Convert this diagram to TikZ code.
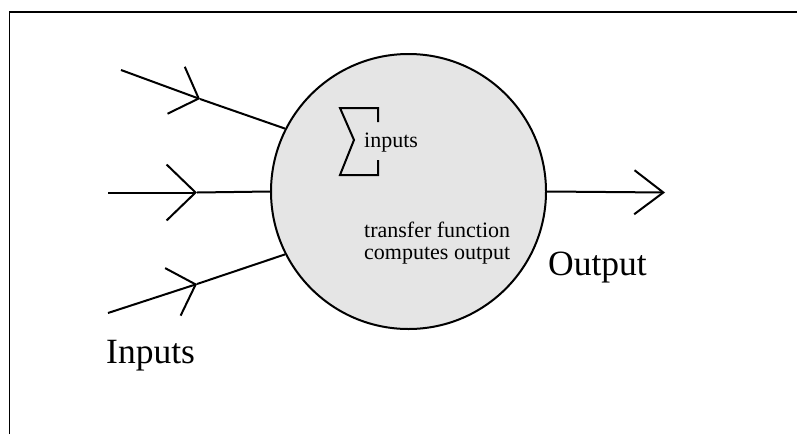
\documentclass[tikz,border=0pt]{standalone}
\usepackage{fontspec}
\setmainfont{Liberation Serif}
\usetikzlibrary{arrows.meta}
\begin{document}
\begin{tikzpicture}[x=1pt,y=-1pt,
  wire/.style={line width=2pt},
  barb/.style={wire,-{Straight Barb[length=24pt,width=50pt,line width=2pt]}},
  barbwide/.style={wire,-{Straight Barb[length=29pt,width=56pt,line width=2pt]}},
  barbout/.style={wire,-{Straight Barb[length=29pt,width=44pt,line width=2pt]}},
  small/.style={font=\fontsize{22}{24}\selectfont,inner sep=0pt},
  big/.style={font=\fontsize{35.5}{38}\selectfont,inner sep=0pt}]
\useasboundingbox (0,0) rectangle (797,434);
% frame (top and left edges)
\draw[line width=1.8pt] (9.5,434) -- (9.5,12) -- (797,12);
% neuron
\node[circle,draw,line width=2pt,fill=black!10,minimum size=275pt,inner sep=0pt] (neuron) at (408.5,191.5) {};
% input coordinates
\coordinate (s1) at (121,70);  \coordinate (v1) at (200,99);
\coordinate (s2) at (108,192.5); \coordinate (v2) at (197,192.5);
\coordinate (s3) at (108,313); \coordinate (v3) at (197,284);
\coordinate (out) at (665,192.5);
% inputs
\draw[barb] (s1) -- (v1);
\draw[wire] (v1) -- (neuron.153.5);
\draw[barbwide] (s2) -- (v2);
\draw[wire] (v2) -- (neuron.west);
\draw[barb] (s3) -- (v3);
\draw[wire] (v3) -- (neuron.207.6);
% output
\draw[barbout] (neuron.east) -- (out);
% summation sign
\draw[line width=2pt,line join=miter] (378,122) -- (378,108) -- (340,108) -- (354,140) -- (340,175) -- (378,175) -- (378,160);
% texts
\node[small,anchor=base west] (sumtxt) at (364,147) {inputs};
\node[small,anchor=base west] (tf1) at (364,237) {transfer function};
\node[small,anchor=base west] (tf2) at (364,259.5) {computes output};
\node[big,anchor=base west] (outlbl) at (548,275) {Output};
\node[big,anchor=base west] (inlbl) at (106,363) {Inputs};
\end{tikzpicture}
\end{document}
